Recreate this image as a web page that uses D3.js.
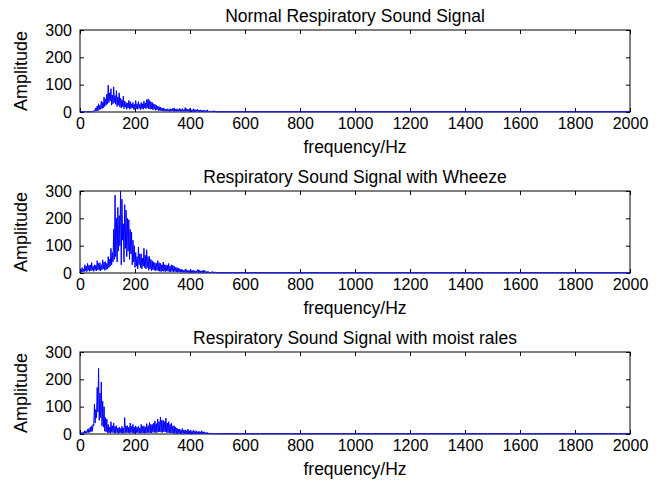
<!DOCTYPE html>
<html><head><meta charset="utf-8">
<script src="https://cdn.jsdelivr.net/npm/d3@7"></script>
<style>body{margin:0;background:#fff}svg{display:block}text{font-family:"Liberation Sans",Arial,sans-serif;fill:#000}</style>
</head><body><svg id="c" width="670" height="481"></svg>
<script>
const titles = ["Normal Respiratory Sound Signal","Respiratory Sound Signal with Wheeze","Respiratory Sound Signal with moist rales"];
const xTicks = [0,200,400,600,800,1000,1200,1400,1600,1800,2000];
const yTicks = [0,100,200,300];
const freqStep = 2.5; // Hz between samples, samples start at 0 Hz
const tailFreq = 2000, tailValue = 1;
const normalAmp = [
 1,1,1,1,1,1,1,1,1,1,1,1,1,1,1,1,1,1,1,1,
 2,8,3,15,5,22,4,30,8,25,10,40,12,35,15,55,20,48,25,65,
 30,98,35,70,40,85,25,62,30,92,35,60,28,78,20,55,25,70,18,50,
 15,45,20,58,12,40,18,35,10,32,15,42,10,38,12,30,15,35,10,28,
 8,42,12,30,10,38,14,28,8,35,12,30,10,40,15,33,12,45,15,48,
 12,42,10,38,12,35,8,30,10,28,6,25,8,22,5,20,6,18,4,15,
 5,15,3,12,4,10,3,12,4,9,2,12,3,10,4,14,3,15,2,10,
 3,12,2,9,3,14,2,10,3,12,2,8,3,16,2,12,3,10,2,12,
 2,10,1,8,2,12,1,9,2,8,1,10,2,7,1,8,1,6,1,7,
 1,6,1,5,1,8,1,4,1,3,1,3,1,2,1,5,1,2,1,1,
 1];
const wheezeAmp = [
 1,10,3,20,5,15,4,30,8,25,5,35,10,28,6,30,8,38,10,25,
 6,30,10,28,8,45,12,35,10,38,8,30,12,48,15,40,10,42,12,35,
 15,60,20,50,25,90,30,75,40,160,50,285,60,200,40,240,80,210,100,300,
 30,270,120,180,40,250,90,230,60,200,80,195,50,160,70,150,30,120,40,100,
 20,75,25,60,15,95,30,70,20,70,15,55,25,90,20,65,15,85,20,60,
 10,60,15,50,8,45,12,40,10,38,8,35,10,45,8,38,6,35,5,30,
 8,40,6,30,5,30,8,28,6,35,5,25,4,30,6,28,4,25,5,20,
 4,20,3,18,4,15,3,14,3,12,2,10,3,14,2,12,2,10,2,9,
 2,12,2,10,1,10,2,8,1,8,2,12,1,12,2,7,1,8,2,10,
 1,10,1,6,1,6,1,5,1,4,1,3,1,6,1,3,1,3,1,2,
 1];
const moistAmp = [
 1,3,1,6,2,8,2,12,3,10,4,18,5,20,6,25,8,30,10,35,
 30,110,40,90,60,170,80,240,50,150,60,190,30,120,25,100,10,60,8,55,
 5,35,4,25,3,45,6,30,5,40,4,28,3,30,5,22,2,25,4,20,
 4,28,3,22,3,60,5,30,5,30,4,25,3,40,5,28,4,35,3,25,
 2,30,5,25,5,28,3,22,3,35,4,28,4,30,3,25,3,38,5,30,
 5,42,4,35,4,35,6,40,6,48,5,38,5,55,8,45,8,62,6,50,
 6,50,8,45,8,58,5,40,5,45,4,35,4,40,3,30,3,30,2,25,
 2,22,2,18,2,18,1,15,1,20,2,14,2,15,1,12,1,18,1,12,
 1,14,1,10,1,15,1,10,1,12,1,8,1,10,1,8,1,12,1,8,
 1,8,1,5,1,6,1,4,1,3,1,2,1,2,1,1,1,1,1,1,
 1];
const series = [normalAmp, wheezeAmp, moistAmp];

const svg = d3.select("#c");
const L = 80, R = 630, H = 82;
const tops = [30, 191, 352];
const x = d3.scaleLinear().domain([0,2000]).range([L,R]);

series.forEach((amp, i) => {
  const top = tops[i], bot = top + H;
  const y = d3.scaleLinear().domain([0,300]).range([bot, top]);
  const g = svg.append("g");
  const ax = d3.axisBottom(x).tickValues(xTicks).tickSize(-4).tickPadding(8).tickFormat(d3.format("d"));
  const gx = g.append("g").attr("transform",`translate(0,${bot})`).call(ax);
  const gxt = g.append("g").attr("transform",`translate(0,${top})`).call(d3.axisTop(x).tickValues(xTicks).tickSize(-4).tickFormat(""));
  const ay = d3.axisLeft(y).tickValues(yTicks).tickSize(-4).tickPadding(8);
  const gy = g.append("g").attr("transform",`translate(${L},0)`).call(ay);
  const gyr = g.append("g").attr("transform",`translate(${R},0)`).call(d3.axisRight(y).tickValues(yTicks).tickSize(-4).tickFormat(""));
  [gx,gxt,gy,gyr].forEach(a=>{
    a.select(".domain").remove();
    a.selectAll("line").attr("stroke","#000");
    a.selectAll("text").style("font-size","16px").style("font-family","'Liberation Sans',Arial,sans-serif");
  });
  gx.selectAll("text").attr("dy","0.71em").attr("y",6);
  g.append("rect").attr("x",L).attr("y",top).attr("width",R-L).attr("height",H)
    .attr("fill","none").attr("stroke","#000").attr("stroke-width",1);
  const pts = amp.map((v,k)=>[k*freqStep, v]);
  pts.push([tailFreq, tailValue]);
  g.append("path").datum(pts)
    .attr("fill","none").attr("stroke","#0000ff").attr("stroke-width",1)
    .attr("d", d3.line().x(d=>x(d[0])).y(d=>y(d[1])));
  g.append("text").attr("x",(L+R)/2).attr("y",top-8).attr("text-anchor","middle")
    .style("font-size","17.5px").text(titles[i]);
  g.append("text").attr("x",(L+R)/2).attr("y",bot+41).attr("text-anchor","middle")
    .style("font-size","17.5px").text("frequency/Hz");
  g.append("text").attr("transform",`translate(27,${(top+bot)/2}) rotate(-90)`).attr("text-anchor","middle")
    .style("font-size","18px").text("Amplitude");
});
</script></body></html>
